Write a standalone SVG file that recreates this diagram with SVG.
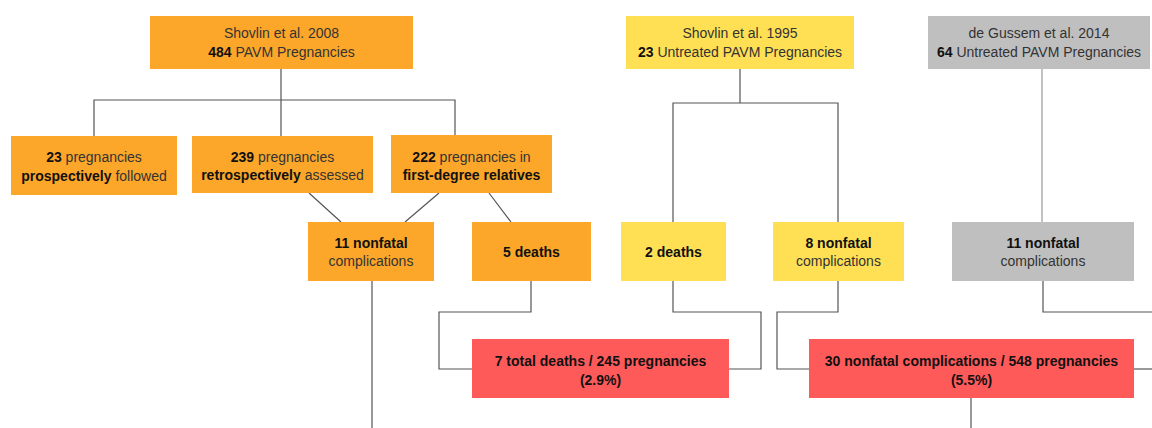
<svg xmlns="http://www.w3.org/2000/svg" width="1152" height="428" viewBox="0 0 1152 428">
<style>
text{font-family:"Liberation Sans",Arial,sans-serif;font-size:14px;fill:#333;text-anchor:middle}
.b{font-weight:bold;fill:#111}
.or{fill:#FCA72A}
.ye{fill:#FFE055}
.gr{fill:#BFBFBF}
.rd{fill:#FF5A5A}
.ln{fill:none;stroke:#555;stroke-width:1.2}
.lg{fill:none;stroke:#999;stroke-width:1.2}
</style>
<g id="connectors">
<path class="ln" d="M281,69 V100 M94,136 V100 H455 V135 M281,100 V136"/>
<path class="ln" d="M309,193 L341,222 M439,193 L405,222 M489,193 L511,222"/>
<path class="ln" d="M372,281 V428"/>
<path class="ln" d="M531,281 V312 H439 V369 H472"/>
<path class="ln" d="M740,69 V103 M673,222 V103 H838 V222"/>
<path class="ln" d="M673,281 V312 H761 V369 H729"/>
<path class="ln" d="M838,281 V312 H777 V369 H809"/>
<path class="lg" d="M1042,69 V222"/>
<path class="ln" d="M1043,281 V312 H1152"/>
<path class="ln" d="M1134,369 H1152"/>
<path class="ln" d="M971,398 V428"/>
</g>
<g id="shovlin2008"><rect class="or" x="150" y="16" width="263" height="53"/><text x="281.5" y="38">Shovlin et al. 2008</text><text x="281.5" y="57"><tspan class="b">484</tspan> PAVM Pregnancies</text></g>
<g id="shovlin1995"><rect class="ye" x="626" y="16" width="228" height="53"/><text x="740" y="38">Shovlin et al. 1995</text><text x="740" y="57"><tspan class="b">23</tspan> Untreated PAVM Pregnancies</text></g>
<g id="degussem2014"><rect class="gr" x="928" y="16" width="222" height="53"/><text x="1039" y="38">de Gussem et al. 2014</text><text x="1039" y="57"><tspan class="b">64</tspan> Untreated PAVM Pregnancies</text></g>
<g id="prospective"><rect class="or" x="11" y="136" width="166" height="59"/><text x="94" y="162"><tspan class="b">23</tspan> pregnancies</text><text x="94" y="181"><tspan class="b">prospectively</tspan> followed</text></g>
<g id="retrospective"><rect class="or" x="192" y="136" width="181" height="57"/><text x="282.5" y="162"><tspan class="b">239</tspan> pregnancies</text><text x="282.5" y="180"><tspan class="b">retrospectively</tspan> assessed</text></g>
<g id="relatives"><rect class="or" x="391" y="135" width="161" height="58"/><text x="471.5" y="162"><tspan class="b">222</tspan> pregnancies in</text><text x="471.5" y="180"><tspan class="b">first-degree relatives</tspan></text></g>
<g id="nonfatal11a"><rect class="or" x="308" y="222" width="126" height="59"/><text x="371" y="248" class="b">11 nonfatal</text><text x="371" y="266">complications</text></g>
<g id="deaths5"><rect class="or" x="472" y="222" width="119" height="59"/><text x="531.5" y="257" class="b">5 deaths</text></g>
<g id="deaths2"><rect class="ye" x="621" y="222" width="105" height="59"/><text x="673.5" y="257" class="b">2 deaths</text></g>
<g id="nonfatal8"><rect class="ye" x="773" y="222" width="131" height="59"/><text x="838.5" y="248" class="b">8 nonfatal</text><text x="838.5" y="266">complications</text></g>
<g id="nonfatal11b"><rect class="gr" x="952" y="222" width="182" height="59"/><text x="1043" y="248" class="b">11 nonfatal</text><text x="1043" y="266">complications</text></g>
<g id="totaldeaths"><rect class="rd" x="472" y="339" width="257" height="59"/><text x="600.5" y="366" class="b">7 total deaths / 245 pregnancies</text><text x="600.5" y="385" class="b">(2.9%)</text></g>
<g id="totalnonfatal"><rect class="rd" x="809" y="339" width="325" height="59"/><text x="971.5" y="366" class="b">30 nonfatal complications / 548 pregnancies</text><text x="971.5" y="385" class="b">(5.5%)</text></g>
</svg>
